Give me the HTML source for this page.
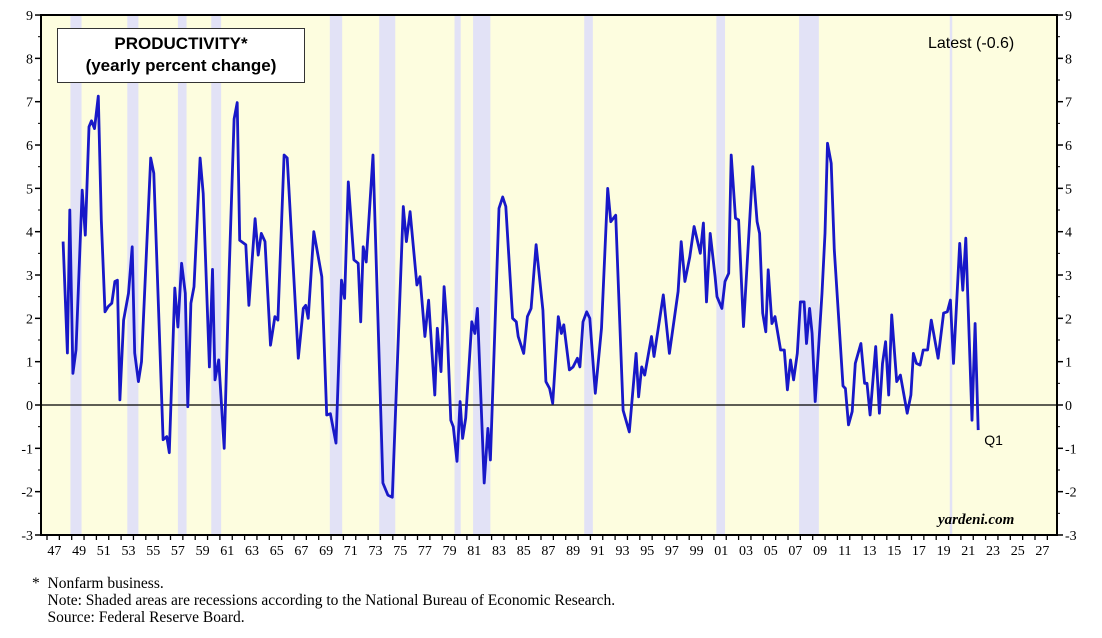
<!DOCTYPE html>
<html><head><meta charset="utf-8"><style>
body{margin:0;background:#fff;}
svg{display:block;font-family:"Liberation Serif",serif;}
</style></head><body>
<svg id="chart" width="1102" height="638"></svg>
<script>
const years=[1948.3,1948.65,1948.85,1949.1,1949.35,1949.85,1950.1,1950.4,1950.6,1950.85,1951.15,1951.4,1951.7,1951.95,1952.25,1952.5,1952.7,1952.9,1953.2,1953.6,1953.9,1954.1,1954.4,1954.65,1955.4,1955.65,1956.4,1956.7,1956.9,1957.35,1957.6,1957.9,1958.2,1958.4,1958.65,1958.9,1959.4,1959.65,1960.15,1960.4,1960.6,1960.9,1961.35,1961.75,1962.15,1962.4,1962.6,1963.1,1963.35,1963.85,1964.1,1964.35,1964.65,1965.1,1965.45,1965.7,1966.2,1966.45,1967.35,1967.75,1967.95,1968.15,1968.6,1969.25,1969.65,1969.95,1970.4,1970.85,1971.1,1971.4,1971.85,1972.2,1972.4,1972.6,1972.85,1973.4,1974.2,1974.6,1974.96,1975.85,1976.1,1976.4,1976.95,1977.2,1977.6,1977.9,1978.4,1978.6,1978.9,1979.15,1979.4,1979.7,1979.9,1980.2,1980.45,1980.65,1980.9,1981.4,1981.65,1981.85,1982.4,1982.7,1982.9,1983.6,1983.9,1984.15,1984.7,1985.0,1985.15,1985.6,1985.9,1986.2,1986.6,1987.15,1987.4,1987.7,1987.95,1988.4,1988.65,1988.85,1989.3,1989.6,1989.95,1990.15,1990.4,1990.7,1990.95,1991.4,1991.9,1992.4,1992.65,1993.05,1993.65,1994.15,1994.7,1994.9,1995.15,1995.4,1995.95,1996.15,1996.9,1997.4,1998.1,1998.35,1998.65,1999.05,1999.4,1999.9,2000.15,2000.4,2000.7,2001.1,2001.25,2001.65,2001.9,2002.2,2002.4,2002.75,2003.0,2003.4,2003.65,2004.15,2004.5,2004.7,2004.95,2005.2,2005.4,2005.7,2005.95,2006.4,2006.7,2006.95,2007.2,2007.45,2007.75,2008.0,2008.3,2008.5,2008.75,2008.95,2009.2,2009.75,2010.0,2010.2,2010.5,2010.75,2011.45,2011.65,2011.9,2012.2,2012.45,2012.9,2013.2,2013.4,2013.65,2014.1,2014.4,2014.65,2014.9,2015.15,2015.4,2015.8,2016.1,2016.65,2016.95,2017.15,2017.4,2017.7,2017.95,2018.3,2018.6,2019.15,2019.6,2019.9,2020.15,2020.4,2020.9,2021.15,2021.4,2021.9,2022.15,2022.4];
const values=[3.77,1.2,4.5,0.73,1.27,4.96,3.92,6.42,6.56,6.38,7.13,4.27,2.15,2.27,2.35,2.85,2.88,0.12,1.96,2.58,3.65,1.2,0.54,1.0,5.7,5.35,-0.8,-0.73,-1.1,2.7,1.8,3.27,2.58,-0.04,2.35,2.73,5.7,4.88,0.88,3.13,0.58,1.04,-1.0,3.1,6.6,6.98,3.8,3.7,2.3,4.3,3.46,3.96,3.77,1.38,2.04,1.96,5.77,5.7,1.08,2.23,2.3,2.0,4.0,2.96,-0.23,-0.2,-0.88,2.88,2.46,5.15,3.35,3.27,1.92,3.65,3.3,5.77,-1.8,-2.08,-2.13,4.58,3.77,4.46,2.77,2.96,1.58,2.42,0.23,1.77,0.77,2.73,1.8,-0.35,-0.5,-1.3,0.08,-0.77,-0.3,1.92,1.65,2.23,-1.8,-0.54,-1.27,4.54,4.8,4.58,2.0,1.92,1.58,1.19,2.04,2.23,3.7,2.19,0.54,0.38,0.04,2.04,1.65,1.85,0.81,0.88,1.08,0.88,1.92,2.15,2.0,0.27,1.77,5.0,4.23,4.38,-0.12,-0.62,1.19,0.19,0.88,0.69,1.58,1.12,2.54,1.19,2.62,3.77,2.85,3.42,4.12,3.5,4.2,2.38,3.96,2.96,2.5,2.23,2.85,3.04,5.77,4.31,4.27,1.81,3.04,5.5,4.23,3.96,2.12,1.69,3.12,1.88,2.04,1.27,1.27,0.35,1.04,0.58,1.19,2.38,2.38,1.42,2.23,1.65,0.08,2.58,3.96,6.04,5.58,3.58,0.44,0.38,-0.46,-0.15,0.96,1.42,0.5,0.5,-0.23,1.35,-0.19,0.96,1.46,0.23,2.08,0.54,0.69,-0.19,0.23,1.19,0.96,0.92,1.27,1.27,1.96,1.08,2.12,2.15,2.42,0.96,3.73,2.65,3.85,-0.35,1.88,-0.58];
const recStart=[1948.9,1953.5,1957.6,1960.3,1969.9,1973.9,1980.0,1981.5,1990.5,2001.2,2007.9,2020.1];
const recEnd=[1949.8,1954.4,1958.3,1961.1,1970.9,1975.2,1980.5,1982.9,1991.2,2001.9,2009.5,2020.3];
const yTicks=[-3,-2,-1,0,1,2,3,4,5,6,7,8,9];
const xLabelYears=[];for(let y=1947;y<=2027;y+=2)xLabelYears.push(y);

const NS="http://www.w3.org/2000/svg";
const svg=document.getElementById('chart');
const L=41,R=1057,T=15,B=535;
function xOf(yr){return 47+(yr-1947)*12.35;}
function yOf(v){return 405-v*43.33;}
function el(tag,attrs,parent){const e=document.createElementNS(NS,tag);for(const k in attrs)e.setAttribute(k,attrs[k]);(parent||svg).appendChild(e);return e;}

const bg=el('rect',{x:L,y:T,width:R-L,height:B-T,fill:'#fdfddf'});



for(let i=0;i<recStart.length;i++){
  const r=el('rect',{x:xOf(recStart[i]),y:T,width:xOf(recEnd[i])-xOf(recStart[i]),height:B-T,fill:'#e2e2f6'});
  
  
}

const zl=el('line',{x1:L,x2:R,y1:yOf(0),y2:yOf(0),stroke:'#000','stroke-width':1.3});



let d='';
for(let i=0;i<years.length;i++){d+=(i?'L':'M')+xOf(years[i]).toFixed(1)+','+yOf(values[i]).toFixed(1);}
const line=el('path',{d:d,fill:'none',stroke:'#1818c8','stroke-width':2.8,'stroke-linejoin':'round'});



const frame=el('rect',{x:L,y:T,width:R-L,height:B-T,fill:'none',stroke:'#000','stroke-width':2});



for(const v of yTicks){
  const y=yOf(v);
  el('line',{x1:L-6,x2:L,y1:y,y2:y,stroke:'#000','stroke-width':1.5});
  el('line',{x1:R,x2:R+6,y1:y,y2:y,stroke:'#000','stroke-width':1.5});
  if(v<9){const ym=yOf(v+0.5);el('line',{x1:L-3,x2:L,y1:ym,y2:ym,stroke:'#000'});el('line',{x1:R,x2:R+3,y1:ym,y2:ym,stroke:'#000'});}
  const t1=el('text',{x:L-8,y:y+5,'text-anchor':'end','font-size':14});t1.textContent=v;
  
  
  const t2=el('text',{x:R+8,y:y+5,'font-size':14});t2.textContent=v;
  
  
}
for(let yr=1947;yr<=2028;yr++){el('line',{x1:xOf(yr),x2:xOf(yr),y1:B,y2:B+5,stroke:'#000','stroke-width':1.3});}
for(const yr of xLabelYears){
  const t=el('text',{x:xOf(yr+0.6),y:B+20,'text-anchor':'middle','font-size':14});
  t.textContent=String(yr%100).padStart(2,'0');
  
  
}
const q=el('text',{x:xOf(2022.4)+6,y:yOf(-0.58)+15,'font-size':14,'font-family':'Liberation Sans, sans-serif'});q.textContent='Q1';


</script>
<div style="position:absolute;left:57px;top:28px;width:248px;height:55px;border:1.5px solid #333;background:#fff;font:bold 17px 'Liberation Sans',sans-serif;text-align:center;line-height:22px;padding-top:4px;box-sizing:border-box;">PRODUCTIVITY*<br>(yearly percent change)</div>
<div style="position:absolute;left:928px;top:35px;font:16px 'Liberation Sans',sans-serif;">Latest (-0.6)</div>
<div style="position:absolute;left:938px;top:512px;font:italic bold 15px 'Liberation Serif',serif;">yardeni.com</div>
<div style="position:absolute;left:32px;top:575px;font:15.5px 'Liberation Serif',serif;line-height:17px;">*&nbsp;&nbsp;Nonfarm business.<br>&nbsp;&nbsp;&nbsp;&nbsp;Note: Shaded areas are recessions according to the National Bureau of Economic Research.<br>&nbsp;&nbsp;&nbsp;&nbsp;Source: Federal Reserve Board.</div>
</body></html>
